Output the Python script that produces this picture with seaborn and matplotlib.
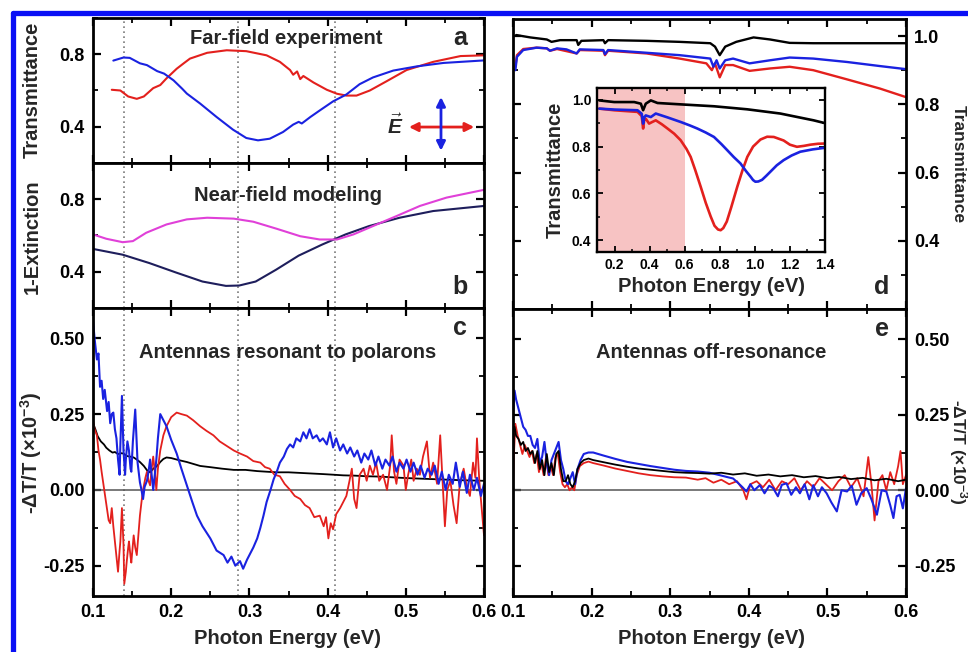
import matplotlib
matplotlib.use("Agg")
import matplotlib.pyplot as plt
from matplotlib.ticker import MultipleLocator
from matplotlib.lines import Line2D
import seaborn as sns

# ---------------- data ----------------
# (a) far-field experiment, transmittance
a_blue_x = [0.126, 0.139, 0.147, 0.160, 0.169, 0.182, 0.191, 0.203, 0.214, 0.220, 0.237, 0.258, 0.279, 0.296,
            0.311, 0.326, 0.343, 0.356, 0.363, 0.367, 0.378, 0.390, 0.407, 0.424, 0.441, 0.458, 0.484, 0.514,
            0.548, 0.600]
a_blue_y = [0.765, 0.782, 0.780, 0.750, 0.740, 0.707, 0.693, 0.656, 0.610, 0.583, 0.528, 0.454, 0.384, 0.338,
            0.325, 0.334, 0.371, 0.412, 0.427, 0.418, 0.454, 0.490, 0.540, 0.578, 0.635, 0.672, 0.710, 0.733,
            0.752, 0.766]
a_red_x = [0.124, 0.135, 0.145, 0.156, 0.165, 0.177, 0.186, 0.194, 0.207, 0.216, 0.224, 0.246, 0.271, 0.296,
           0.322, 0.339, 0.352, 0.356, 0.361, 0.365, 0.369, 0.382, 0.399, 0.412, 0.424, 0.437, 0.454, 0.475,
           0.501, 0.535, 0.570, 0.600]
a_red_y = [0.604, 0.600, 0.567, 0.554, 0.567, 0.613, 0.630, 0.667, 0.720, 0.750, 0.776, 0.808, 0.822, 0.817,
           0.794, 0.758, 0.713, 0.687, 0.705, 0.663, 0.680, 0.644, 0.604, 0.582, 0.572, 0.572, 0.600, 0.650,
           0.713, 0.758, 0.790, 0.794]

# (b) near-field modeling, 1-extinction
b_mag_x = [0.100, 0.117, 0.138, 0.151, 0.168, 0.194, 0.220, 0.246, 0.280, 0.305, 0.335, 0.365, 0.390, 0.412,
           0.433, 0.458, 0.488, 0.518, 0.552, 0.600]
b_mag_y = [0.606, 0.582, 0.563, 0.569, 0.615, 0.661, 0.689, 0.698, 0.693, 0.676, 0.637, 0.596, 0.578, 0.578,
           0.606, 0.652, 0.707, 0.763, 0.809, 0.852]
b_navy_x = [0.100, 0.138, 0.172, 0.206, 0.240, 0.270, 0.287, 0.308, 0.334, 0.363, 0.393, 0.423, 0.453, 0.492,
            0.535, 0.600]
b_navy_y = [0.526, 0.494, 0.448, 0.396, 0.346, 0.322, 0.324, 0.346, 0.411, 0.489, 0.550, 0.606, 0.652, 0.698,
            0.735, 0.763]

# (c) antennas resonant to polarons, -dT/T (x1e-3)
c_black_x = [0.100, 0.103, 0.106, 0.110, 0.114, 0.117, 0.121, 0.125, 0.128, 0.132, 0.136, 0.139, 0.143, 0.147,
             0.152, 0.156, 0.160, 0.165, 0.169, 0.173, 0.177, 0.182, 0.186, 0.190, 0.194, 0.200, 0.210, 0.220,
             0.237, 0.250, 0.265, 0.280, 0.295, 0.310, 0.322, 0.335, 0.350, 0.365, 0.380, 0.395, 0.408, 0.420,
             0.435, 0.450, 0.465, 0.480, 0.493, 0.510, 0.530, 0.550, 0.570, 0.600]
c_black_y = [0.221, 0.200, 0.177, 0.160, 0.150, 0.139, 0.130, 0.123, 0.125, 0.118, 0.121, 0.120, 0.112, 0.110,
             0.107, 0.100, 0.092, 0.079, 0.065, 0.058, 0.070, 0.079, 0.092, 0.102, 0.107, 0.105, 0.098, 0.092,
             0.079, 0.075, 0.070, 0.066, 0.066, 0.062, 0.060, 0.058, 0.058, 0.056, 0.054, 0.052, 0.050, 0.048,
             0.047, 0.045, 0.044, 0.042, 0.040, 0.038, 0.036, 0.034, 0.032, 0.030]
c_blue_x = [0.100, 0.102, 0.105, 0.107, 0.109, 0.111, 0.113, 0.115, 0.118, 0.120, 0.122, 0.124, 0.126, 0.128,
            0.130, 0.132, 0.134, 0.135, 0.137, 0.139, 0.141, 0.142, 0.144, 0.146, 0.148, 0.149, 0.151, 0.154,
            0.156, 0.157, 0.160, 0.162, 0.164, 0.166, 0.169, 0.171, 0.173, 0.175, 0.177, 0.179, 0.181, 0.183,
            0.186, 0.190, 0.194, 0.200, 0.207, 0.213, 0.220, 0.227, 0.233, 0.240, 0.250, 0.258, 0.267, 0.272,
            0.277, 0.282, 0.288, 0.292, 0.297, 0.301, 0.305, 0.310, 0.314, 0.318, 0.322, 0.327, 0.331, 0.335,
            0.339, 0.344, 0.348, 0.352, 0.356, 0.360, 0.365, 0.369, 0.373, 0.377, 0.381, 0.386, 0.390, 0.394,
            0.399, 0.403, 0.407, 0.411, 0.416, 0.420, 0.425, 0.429, 0.434, 0.438, 0.443, 0.447, 0.452, 0.456,
            0.461, 0.465, 0.470, 0.474, 0.479, 0.483, 0.488, 0.492, 0.497, 0.501, 0.506, 0.510, 0.515, 0.519,
            0.524, 0.528, 0.533, 0.537, 0.542, 0.546, 0.551, 0.555, 0.560, 0.564, 0.569, 0.573, 0.578, 0.582,
            0.587, 0.591, 0.596, 0.600]
c_blue_y = [0.56, 0.50, 0.43, 0.45, 0.34, 0.36, 0.30, 0.33, 0.26, 0.29, 0.22, 0.25, 0.255, 0.20,
            0.17, 0.10, 0.05, 0.15, 0.31, 0.13, 0.05, 0.10, 0.16, 0.13, 0.07, 0.06, 0.16, 0.265,
            0.15, 0.09, 0.025, 0.00, -0.03, 0.01, 0.03, 0.06, 0.10, 0.05, 0.00, 0.05, 0.10, 0.17,
            0.25, 0.23, 0.21, 0.165, 0.12, 0.07, 0.015, -0.04, -0.085, -0.12, -0.16, -0.20, -0.215, -0.24,
            -0.22, -0.25, -0.235, -0.26, -0.23, -0.21, -0.19, -0.16, -0.125, -0.085, -0.04, 0.00, 0.035, 0.06,
            0.09, 0.11, 0.135, 0.15, 0.14, 0.17, 0.16, 0.19, 0.17, 0.20, 0.17, 0.18, 0.16, 0.17,
            0.15, 0.19, 0.14, 0.17, 0.13, 0.15, 0.12, 0.14, 0.11, 0.13, 0.09, 0.12, 0.10, 0.13,
            0.08, 0.11, 0.07, 0.10, 0.08, 0.11, 0.06, 0.09, 0.07, 0.10, 0.06, 0.09, 0.05, 0.08,
            0.04, 0.07, 0.05, 0.08, 0.02, 0.06, 0.00, 0.05, 0.02, 0.09, 0.01, 0.06, -0.01, 0.05,
            0.00, 0.04, -0.02, 0.02]
c_red_x = [0.100, 0.102, 0.105, 0.107, 0.109, 0.111, 0.113, 0.116, 0.118, 0.120, 0.122, 0.124, 0.126, 0.128,
           0.130, 0.132, 0.134, 0.135, 0.137, 0.139, 0.140, 0.142, 0.143, 0.145, 0.146, 0.148, 0.149, 0.151,
           0.152, 0.154, 0.156, 0.158, 0.160, 0.162, 0.164, 0.167, 0.169, 0.171, 0.173, 0.175, 0.177, 0.179,
           0.181, 0.183, 0.186, 0.190, 0.194, 0.200, 0.207, 0.213, 0.220, 0.228, 0.237, 0.245, 0.254, 0.262,
           0.271, 0.280, 0.288, 0.297, 0.305, 0.314, 0.320, 0.326, 0.332, 0.339, 0.345, 0.352, 0.358, 0.365,
           0.371, 0.377, 0.383, 0.390, 0.395, 0.398, 0.401, 0.404, 0.407, 0.411, 0.416, 0.420, 0.424, 0.428,
           0.431, 0.434, 0.437, 0.441, 0.446, 0.450, 0.454, 0.458, 0.462, 0.466, 0.471, 0.476, 0.480, 0.482,
           0.485, 0.488, 0.492, 0.497, 0.500, 0.503, 0.507, 0.510, 0.514, 0.518, 0.522, 0.527, 0.531, 0.535,
           0.540, 0.544, 0.547, 0.550, 0.553, 0.557, 0.561, 0.565, 0.569, 0.574, 0.578, 0.582, 0.586, 0.589,
           0.591, 0.594, 0.597, 0.600]
c_red_y = [0.23, 0.20, 0.18, 0.13, 0.10, 0.06, 0.025, -0.03, -0.06, -0.10, -0.11, -0.06, -0.12, -0.17,
           -0.22, -0.27, -0.20, -0.17, -0.06, -0.18, -0.31, -0.27, -0.24, -0.19, -0.17, -0.22, -0.24, -0.18,
           -0.15, -0.19, -0.215, -0.15, -0.085, -0.04, 0.00, 0.04, 0.06, 0.03, 0.015, 0.07, 0.11, 0.06,
           0.00, 0.07, 0.13, 0.18, 0.21, 0.24, 0.255, 0.25, 0.245, 0.23, 0.21, 0.195, 0.18, 0.16,
           0.145, 0.13, 0.12, 0.11, 0.095, 0.09, 0.075, 0.07, 0.05, 0.045, 0.02, 0.00, -0.02, -0.03,
           -0.05, -0.06, -0.09, -0.085, -0.12, -0.09, -0.16, -0.11, -0.13, -0.08, -0.06, -0.04, -0.02, 0.03,
           0.07, -0.03, -0.06, 0.05, 0.07, 0.03, 0.08, 0.05, 0.09, 0.03, 0.05, 0.00, 0.08, 0.18,
           0.06, 0.02, 0.10, 0.08, 0.00, 0.05, 0.10, 0.03, 0.07, 0.05, 0.11, 0.16, 0.04, 0.09,
           0.02, 0.18, 0.03, -0.12, 0.00, 0.03, -0.05, -0.11, 0.02, 0.07, 0.01, -0.02, 0.09, 0.04,
           0.17, 0.03, -0.06, -0.15]

# (d) transmittance, main panel (0.1-0.6 eV) and inset (0.1-1.4 eV)
d_black_x = [0.104, 0.122, 0.143, 0.149, 0.160, 0.181, 0.183, 0.187, 0.215, 0.217, 0.221, 0.270, 0.312, 0.351,
             0.357, 0.363, 0.370, 0.384, 0.406, 0.427, 0.452, 0.482, 0.525, 0.600]
d_black_y = [1.003, 0.996, 0.990, 0.983, 0.988, 0.988, 0.974, 0.986, 0.988, 0.979, 0.988, 0.986, 0.983, 0.979,
             0.969, 0.944, 0.969, 0.983, 0.996, 0.990, 0.980, 0.979, 0.979, 0.979]
d_blue_x = [0.103, 0.105, 0.113, 0.130, 0.143, 0.147, 0.156, 0.168, 0.181, 0.185, 0.215, 0.217, 0.221, 0.270,
            0.312, 0.351, 0.355, 0.359, 0.363, 0.370, 0.380, 0.401, 0.427, 0.452, 0.482, 0.525, 0.567, 0.600]
d_blue_y = [0.900, 0.939, 0.959, 0.966, 0.964, 0.957, 0.964, 0.961, 0.949, 0.961, 0.959, 0.947, 0.959, 0.951,
            0.944, 0.934, 0.910, 0.929, 0.905, 0.929, 0.934, 0.920, 0.929, 0.937, 0.934, 0.924, 0.912, 0.903]
d_red_x = [0.103, 0.105, 0.113, 0.130, 0.143, 0.147, 0.156, 0.181, 0.185, 0.215, 0.217, 0.221, 0.270, 0.312,
           0.346, 0.353, 0.357, 0.363, 0.370, 0.380, 0.401, 0.427, 0.452, 0.482, 0.525, 0.567, 0.600]
d_red_y = [0.910, 0.944, 0.962, 0.966, 0.964, 0.957, 0.962, 0.949, 0.959, 0.957, 0.944, 0.957, 0.949, 0.934,
           0.920, 0.900, 0.920, 0.879, 0.915, 0.915, 0.898, 0.905, 0.910, 0.900, 0.873, 0.846, 0.821]

ins_black_x = [0.113, 0.198, 0.312, 0.350, 0.363, 0.378, 0.407, 0.445, 0.580, 0.767, 0.957, 1.145, 1.335, 1.400]
ins_black_y = [0.997, 0.990, 0.990, 0.983, 0.955, 0.983, 0.997, 0.986, 0.980, 0.972, 0.959, 0.941, 0.912, 0.900]
ins_blue_x = [0.113, 0.198, 0.331, 0.355, 0.363, 0.370, 0.378, 0.407, 0.435, 0.500, 0.577, 0.630, 0.672, 0.720,
              0.767, 0.810, 0.842, 0.880, 0.918, 0.950, 0.975, 0.990, 1.003, 1.020, 1.041, 1.065, 1.089, 1.125,
              1.164, 1.210, 1.259, 1.330, 1.400]
ins_blue_y = [0.962, 0.958, 0.955, 0.940, 0.898, 0.925, 0.933, 0.926, 0.941, 0.925, 0.905, 0.890, 0.877, 0.860,
              0.841, 0.810, 0.785, 0.755, 0.728, 0.695, 0.672, 0.657, 0.650, 0.651, 0.658, 0.675, 0.693, 0.720,
              0.742, 0.762, 0.778, 0.788, 0.795]
ins_red_x = [0.113, 0.198, 0.331, 0.355, 0.363, 0.370, 0.378, 0.397, 0.415, 0.435, 0.470, 0.502, 0.540, 0.577,
             0.610, 0.634, 0.660, 0.691, 0.720, 0.748, 0.770, 0.790, 0.805, 0.820, 0.840, 0.865, 0.900, 0.930,
             0.957, 0.990, 1.032, 1.070, 1.108, 1.164, 1.200, 1.240, 1.280, 1.316, 1.360, 1.400]
ins_red_y = [0.962, 0.955, 0.948, 0.930, 0.877, 0.920, 0.919, 0.898, 0.905, 0.912, 0.895, 0.877, 0.855, 0.827,
             0.790, 0.756, 0.700, 0.629, 0.560, 0.502, 0.462, 0.446, 0.443, 0.452, 0.480, 0.540, 0.629, 0.700,
             0.756, 0.800, 0.830, 0.842, 0.841, 0.826, 0.808, 0.799, 0.803, 0.808, 0.812, 0.813]
shade_range = (0.1, 0.6)

# (e) antennas off-resonance, -dT/T (x1e-3)
e_black_x = [0.100, 0.102, 0.104, 0.107, 0.110, 0.113, 0.116, 0.119, 0.122, 0.125, 0.128, 0.131, 0.134, 0.137,
             0.140, 0.143, 0.146, 0.149, 0.152, 0.155, 0.158, 0.161, 0.164, 0.167, 0.170, 0.173, 0.176, 0.179,
             0.182, 0.186, 0.190, 0.196, 0.202, 0.215, 0.230, 0.245, 0.260, 0.275, 0.290, 0.305, 0.320, 0.335,
             0.350, 0.365, 0.380, 0.395, 0.410, 0.425, 0.440, 0.455, 0.470, 0.485, 0.500, 0.515, 0.530, 0.545,
             0.560, 0.575, 0.590, 0.600]
e_black_y = [0.19, 0.21, 0.18, 0.17, 0.15, 0.16, 0.13, 0.14, 0.12, 0.13, 0.09, 0.13, 0.07, 0.10,
             0.05, 0.12, 0.06, 0.09, 0.05, 0.12, 0.13, 0.07, 0.03, 0.03, 0.05, 0.02, 0.01, 0.03,
             0.07, 0.09, 0.10, 0.105, 0.10, 0.093, 0.085, 0.078, 0.072, 0.068, 0.064, 0.060, 0.058, 0.057,
             0.055, 0.058, 0.052, 0.056, 0.048, 0.052, 0.046, 0.050, 0.043, 0.047, 0.040, 0.044, 0.037, 0.041,
             0.033, 0.038, 0.030, 0.035]
e_blue_x = [0.100, 0.102, 0.104, 0.107, 0.110, 0.113, 0.116, 0.119, 0.122, 0.125, 0.128, 0.131, 0.134, 0.137,
            0.140, 0.143, 0.146, 0.149, 0.152, 0.155, 0.158, 0.161, 0.164, 0.167, 0.170, 0.173, 0.176, 0.179,
            0.182, 0.186, 0.190, 0.196, 0.202, 0.215, 0.230, 0.245, 0.260, 0.275, 0.290, 0.305, 0.320, 0.335,
            0.350, 0.363, 0.372, 0.380, 0.386, 0.392, 0.397, 0.402, 0.407, 0.414, 0.420, 0.426, 0.431, 0.437,
            0.442, 0.448, 0.454, 0.460, 0.465, 0.471, 0.477, 0.482, 0.488, 0.493, 0.499, 0.505, 0.512, 0.518,
            0.525, 0.531, 0.537, 0.543, 0.550, 0.556, 0.563, 0.569, 0.575, 0.580, 0.584, 0.588, 0.592, 0.596,
            0.600]
e_blue_y = [0.25, 0.33, 0.30, 0.27, 0.24, 0.21, 0.20, 0.18, 0.18, 0.15, 0.14, 0.17, 0.09, 0.11,
            0.16, 0.09, 0.05, 0.10, 0.12, 0.14, 0.16, 0.10, 0.07, 0.03, 0.02, 0.04, 0.06, 0.02,
            0.07, 0.10, 0.12, 0.125, 0.125, 0.115, 0.104, 0.094, 0.087, 0.080, 0.074, 0.068, 0.064, 0.062,
            0.058, 0.050, 0.044, 0.039, 0.025, 0.010, -0.004, 0.02, 0.00, 0.017, -0.01, 0.015, 0.007, -0.02,
            0.018, 0.023, -0.015, 0.01, -0.01, 0.02, -0.03, 0.017, -0.02, 0.01, -0.01, -0.04, -0.07, 0.00,
            -0.004, 0.015, -0.048, -0.01, 0.007, -0.03, -0.081, 0.00, -0.004, -0.05, -0.092, -0.02, -0.015, -0.06,
            0.007]
e_red_x = [0.100, 0.101, 0.103, 0.106, 0.109, 0.112, 0.115, 0.118, 0.121, 0.124, 0.127, 0.130, 0.133, 0.136,
           0.139, 0.142, 0.145, 0.148, 0.151, 0.154, 0.157, 0.160, 0.163, 0.166, 0.169, 0.172, 0.175, 0.178,
           0.181, 0.185, 0.190, 0.196, 0.202, 0.215, 0.230, 0.245, 0.260, 0.275, 0.290, 0.305, 0.320, 0.335,
           0.345, 0.355, 0.365, 0.375, 0.385, 0.393, 0.397, 0.402, 0.410, 0.418, 0.426, 0.434, 0.442, 0.450,
           0.458, 0.466, 0.474, 0.482, 0.490, 0.498, 0.506, 0.514, 0.522, 0.530, 0.538, 0.546, 0.552, 0.556,
           0.560, 0.565, 0.570, 0.575, 0.580, 0.585, 0.590, 0.593, 0.596, 0.600]
e_red_y = [0.00, 0.11, 0.22, 0.18, 0.15, 0.12, 0.15, 0.13, 0.11, 0.13, 0.09, 0.12, 0.06, 0.09,
           0.05, 0.11, 0.05, 0.08, 0.05, 0.11, 0.12, 0.06, 0.02, 0.01, 0.02, 0.00, 0.01, 0.00,
           0.05, 0.08, 0.09, 0.095, 0.09, 0.082, 0.072, 0.064, 0.056, 0.050, 0.046, 0.043, 0.042, 0.035,
           0.040, 0.025, 0.035, 0.02, 0.03, 0.00, -0.03, 0.02, 0.03, 0.01, 0.035, 0.00, 0.03, 0.02,
           0.04, 0.00, 0.03, 0.01, 0.04, 0.02, 0.00, 0.03, 0.05, 0.01, 0.04, -0.02, 0.11, 0.02,
           -0.10, 0.03, 0.05, 0.00, 0.06, 0.02, 0.08, 0.13, 0.02, 0.05]

guide_x = [0.14, 0.285, 0.41]

# ---------------- style ----------------
sns.set_theme(style="ticks")
plt.rcParams["font.family"] = ["Liberation Sans", "DejaVu Sans"]
plt.rcParams["font.weight"] = "bold"
plt.rcParams["mathtext.fontset"] = "custom"
plt.rcParams["mathtext.rm"] = "Liberation Sans:bold"
plt.rcParams["mathtext.it"] = "Liberation Sans:bold:italic"
plt.rcParams["mathtext.bf"] = "Liberation Sans:bold"

RED = "#e3201d"
BLUE = "#1a22e0"
BLACK = "#000000"
MAGENTA = "#e040d8"
NAVY = "#1e1e5c"
PINK = "#f7c3c3"

W, H = 968, 652
fig = plt.figure(figsize=(W / 100, H / 100), dpi=100)
fig.patch.set_facecolor("white")


def box(left, top, right, bottom):
    # pixel box -> figure fraction rectangle
    return [left / W, 1 - bottom / H, (right - left) / W, (bottom - top) / H]


def line(ax, x, y, color, lw=1.3, z=2):
    sns.lineplot(x=x, y=y, ax=ax, color=color, lw=lw, estimator=None, sort=False,
                 legend=False, zorder=z)


def style(ax, xlim, ylim, xmaj, xmin, ymaj, ymin, fs=13, big=True):
    ax.set_xlim(xlim)
    ax.set_ylim(ylim)
    ax.xaxis.set_major_locator(MultipleLocator(xmaj))
    ax.xaxis.set_minor_locator(MultipleLocator(xmin))
    ax.yaxis.set_major_locator(MultipleLocator(ymaj))
    ax.yaxis.set_minor_locator(MultipleLocator(ymin))
    ax.tick_params(which="both", direction="in", top=True, right=True, labelsize=fs,
                   color="black", labelcolor="black")
    if big:
        ax.tick_params(which="major", length=6, width=1.6, pad=6)
        ax.tick_params(which="minor", length=3.5, width=1.3)
    else:
        ax.tick_params(which="major", length=4, width=1.3, pad=4)
        ax.tick_params(which="minor", length=2.5, width=1.1)
    for s in ax.spines.values():
        s.set_linewidth(2 if big else 1.7)
        s.set_color("black")
    ax.set_xlabel("")
    ax.set_ylabel("")
    ax.set_facecolor("white")


lab_fs = 14.5
letter_fs = 18

# ---- panel a ----
ax_a = fig.add_axes(box(93, 18, 484, 163))
for gx in guide_x:
    ax_a.axvline(gx, color="#7a7a7a", ls=(0, (1, 2)), lw=1.2, zorder=1)
line(ax_a, a_red_x, a_red_y, RED, 1.5)
line(ax_a, a_blue_x, a_blue_y, BLUE, 1.5)
style(ax_a, (0.1, 0.6), (0.2, 1.0), 0.1, 0.05, 0.4, 0.2)
ax_a.tick_params(labelbottom=False)
ax_a.text(0.494, 0.862, "Far-field experiment", transform=ax_a.transAxes, ha="center", va="center",
          fontsize=lab_fs, fontweight="bold")
ax_a.text(0.939, 0.862, "a", transform=ax_a.transAxes, ha="center", va="center", fontsize=letter_fs,
          fontweight="bold")
ax_a.annotate("", xy=(0.975, 0.248), xytext=(0.808, 0.248), xycoords="axes fraction",
              arrowprops=dict(arrowstyle="<|-|>", color=RED, lw=2, mutation_scale=13,
                              shrinkA=0, shrinkB=0))
ax_a.annotate("", xy=(0.890, 0.455), xytext=(0.890, 0.085), xycoords="axes fraction",
              arrowprops=dict(arrowstyle="<|-|>", color=BLUE, lw=2, mutation_scale=13,
                              shrinkA=0, shrinkB=0))
ax_a.text(0.773, 0.255, r"$\vec{E}$", transform=ax_a.transAxes, ha="center", va="center", fontsize=15)

# ---- panel b ----
ax_b = fig.add_axes(box(93, 163, 484, 308))
for gx in guide_x:
    ax_b.axvline(gx, color="#7a7a7a", ls=(0, (1, 2)), lw=1.2, zorder=1)
line(ax_b, b_navy_x, b_navy_y, NAVY, 1.5)
line(ax_b, b_mag_x, b_mag_y, MAGENTA, 1.5)
style(ax_b, (0.1, 0.6), (0.2, 1.0), 0.1, 0.05, 0.4, 0.2)
ax_b.tick_params(labelbottom=False)
ax_b.text(0.499, 0.779, "Near-field modeling", transform=ax_b.transAxes, ha="center", va="center",
          fontsize=lab_fs, fontweight="bold")
ax_b.text(0.939, 0.145, "b", transform=ax_b.transAxes, ha="center", va="center", fontsize=letter_fs,
          fontweight="bold")

# ---- panel c ----
ax_c = fig.add_axes(box(93, 308, 484, 596))
for gx in guide_x:
    ax_c.axvline(gx, color="#7a7a7a", ls=(0, (1, 2)), lw=1.2, zorder=1)
ax_c.axhline(0, color="#555555", lw=1.1, zorder=1)
line(ax_c, c_black_x, c_black_y, BLACK, 1.3)
line(ax_c, c_red_x, c_red_y, RED, 1.3)
line(ax_c, c_blue_x, c_blue_y, BLUE, 1.5)
style(ax_c, (0.1, 0.6), (-0.35, 0.6), 0.1, 0.05, 0.25, 0.125)
ax_c.set_yticks([-0.25, 0.0, 0.25, 0.5])
ax_c.set_yticklabels(["-0.25", "0.00", "0.25", "0.50"])
ax_c.set_xticks([0.1, 0.2, 0.3, 0.4, 0.5, 0.6])
ax_c.set_xticklabels(["0.1", "0.2", "0.3", "0.4", "0.5", "0.6"])
ax_c.text(0.499, 0.847, "Antennas resonant to polarons", transform=ax_c.transAxes, ha="center",
          va="center", fontsize=lab_fs, fontweight="bold")
ax_c.text(0.939, 0.931, "c", transform=ax_c.transAxes, ha="center", va="center", fontsize=letter_fs,
          fontweight="bold")

# ---- panel d ----
ax_d = fig.add_axes(box(513, 19, 906, 309))
line(ax_d, d_black_x, d_black_y, BLACK, 1.7)
line(ax_d, d_red_x, d_red_y, RED, 1.7)
line(ax_d, d_blue_x, d_blue_y, BLUE, 1.7)
style(ax_d, (0.1, 0.6), (0.2, 1.05), 0.1, 0.05, 0.2, 0.1)
ax_d.set_yticks([0.4, 0.6, 0.8, 1.0])
ax_d.set_yticklabels(["0.4", "0.6", "0.8", "1.0"])
ax_d.tick_params(labelbottom=False, labelleft=False, labelright=True)
ax_d.text(0.939, 0.076, "d", transform=ax_d.transAxes, ha="center", va="center", fontsize=letter_fs,
          fontweight="bold")

# inset of d
ax_i = fig.add_axes(box(597, 88, 825, 252))
ax_i.axvspan(shade_range[0], shade_range[1], color=PINK, lw=0, zorder=0)
line(ax_i, ins_black_x, ins_black_y, BLACK, 1.9)
line(ax_i, ins_red_x, ins_red_y, RED, 1.9)
line(ax_i, ins_blue_x, ins_blue_y, BLUE, 1.9)
style(ax_i, (0.1, 1.4), (0.35, 1.05), 0.2, 0.1, 0.2, 0.1, fs=10, big=False)
ax_i.set_xticks([0.2, 0.4, 0.6, 0.8, 1.0, 1.2, 1.4])
ax_i.set_xticklabels(["0.2", "0.4", "0.6", "0.8", "1.0", "1.2", "1.4"])
ax_i.set_yticks([0.4, 0.6, 0.8, 1.0])
ax_i.set_yticklabels(["0.4", "0.6", "0.8", "1.0"])
ax_i.text(0.5, -0.213, "Photon Energy (eV)", transform=ax_i.transAxes, ha="center", va="center",
          fontsize=lab_fs, fontweight="bold")
ax_i.text(-0.184, 0.5, "Transmittance", transform=ax_i.transAxes, ha="center", va="center",
          rotation=90, fontsize=lab_fs, fontweight="bold")

# ---- panel e ----
ax_e = fig.add_axes(box(513, 309, 906, 596))
ax_e.axhline(0, color="#555555", lw=1.1, zorder=1)
line(ax_e, e_red_x, e_red_y, RED, 1.3)
line(ax_e, e_blue_x, e_blue_y, BLUE, 1.5)
line(ax_e, e_black_x, e_black_y, BLACK, 1.3)
style(ax_e, (0.1, 0.6), (-0.35, 0.6), 0.1, 0.05, 0.25, 0.125)
ax_e.set_yticks([-0.25, 0.0, 0.25, 0.5])
ax_e.set_yticklabels(["-0.25", "0.00", "0.25", "0.50"])
ax_e.set_xticks([0.1, 0.2, 0.3, 0.4, 0.5, 0.6])
ax_e.set_xticklabels(["0.1", "0.2", "0.3", "0.4", "0.5", "0.6"])
ax_e.tick_params(labelleft=False, labelright=True)
ax_e.text(0.504, 0.847, "Antennas off-resonance", transform=ax_e.transAxes, ha="center", va="center",
          fontsize=lab_fs, fontweight="bold")
ax_e.text(0.939, 0.931, "e", transform=ax_e.transAxes, ha="center", va="center", fontsize=letter_fs,
          fontweight="bold")


# ---- axis titles placed in figure pixels ----
def ftext(x, y, s, rot=0, fs=lab_fs):
    fig.text(x / W, 1 - y / H, s, ha="center", va="center", rotation=rot, fontsize=fs,
             fontweight="bold")


ftext(32, 90, "Transmittance", 90)
ftext(32, 237, "1-Extinction", 90)
ftext(31, 453, "-ΔT/T (×10$^{-3}$)", 90)
ftext(288, 638, "Photon Energy (eV)")
ftext(711, 638, "Photon Energy (eV)")
# right-hand titles sit at the very edge, as in the source figure
ftext(958, 164, "Transmittance", 270, 12.5)
ftext(958, 452, "-ΔT/T (×10$^{-3}$)", 270, 12.5)

# blue frame (top and left edges visible)
fig.add_artist(Line2D([12.5 / W, 12.5 / W], [0, 1 - 13 / H], transform=fig.transFigure,
                      color="#0a10f5", lw=3.8))
fig.add_artist(Line2D([12.5 / W, 1], [1 - 13 / H, 1 - 13 / H], transform=fig.transFigure,
                      color="#0a10f5", lw=3.8))

fig.savefig("out.png", dpi=100)
